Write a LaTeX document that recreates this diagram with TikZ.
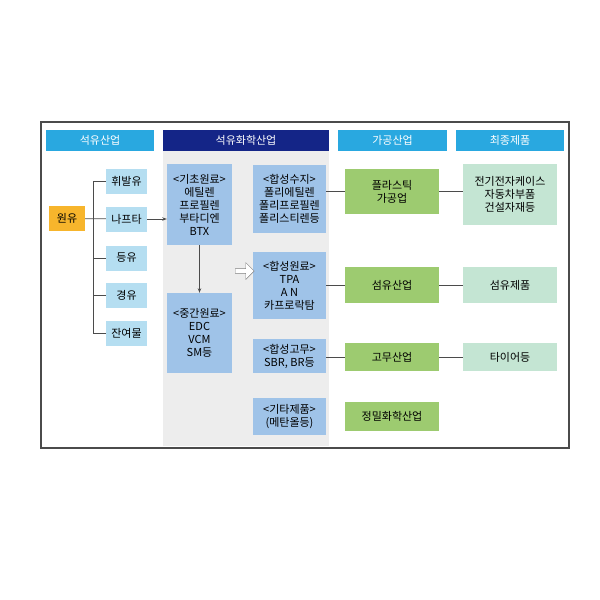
\documentclass[tikz,border=0pt]{standalone}
\usepackage{fontspec}
\setmainfont{Noto Sans CJK KR}
\usepackage{tikz}
\usetikzlibrary{positioning,arrows.meta,shapes.arrows}

\definecolor{hdrblue}{RGB}{41,168,224}
\definecolor{hdrnavy}{RGB}{20,37,135}
\definecolor{oilblue}{RGB}{181,222,241}
\definecolor{crudeorange}{RGB}{247,181,44}
\definecolor{chemblue}{RGB}{159,195,232}
\definecolor{chemgray}{RGB}{237,237,237}
\definecolor{procgreen}{RGB}{157,203,112}
\definecolor{prodmint}{RGB}{196,229,211}
\definecolor{linegray}{RGB}{75,75,75}

\begin{document}
\begin{tikzpicture}[
  x=1pt, y=-1pt,
  font=\fontsize{11pt}{13pt}\selectfont,
  hdr/.style={fill=hdrblue, text=white, minimum width=108pt, minimum height=21pt, inner sep=0pt},
  oil/.style={fill=oilblue, minimum width=41pt, minimum height=25pt, inner sep=0pt},
  chem/.style={fill=chemblue, minimum width=73pt, inner sep=0pt, align=center},
  proc/.style={fill=procgreen, minimum width=94pt, inner sep=0pt, align=center},
  prod/.style={fill=prodmint, minimum width=94pt, inner sep=0pt, align=center},
  conn/.style={draw=linegray, thick},
  arr/.style={-{Stealth[length=1.6mm]}, thick}
]
\useasboundingbox (0,0) rectangle (600,600);
\draw[linegray, line width=1.2pt] (41,122) rectangle (569,448);
\fill[chemgray] (163,151) rectangle (329,446);
% column headers
\node[hdr] (hOil) at (100,140.5) {석유산업};
\node[hdr, fill=hdrnavy, minimum width=166pt] (hChem) at (246,140.5) {석유화학산업};
\node[hdr, minimum width=109pt] (hProc) at (392.5,140.5) {가공산업};
\node[hdr] (hProd) at (510,140.5) {최종제품};
% refining
\node[oil, fill=crudeorange, minimum width=36pt] (crude) at (67,218.5) {원유};
\node[oil] (gasoline) at (126.5,181.5) {휘발유};
\node[oil] (naphtha) at (126.5,219) {나프타};
\node[oil] (kerosene) at (126.5,258) {등유};
\node[oil] (diesel) at (126.5,295) {경유};
\node[oil] (residue) at (126.5,333) {잔여물};
\draw[conn] (gasoline.west) -- ++(-12,0) |- (residue.west);
\draw[conn] (kerosene.west) -- ++(-12,0);
\draw[conn] (diesel.west) -- ++(-12,0);
\draw[conn] (crude) -- (naphtha);
% petrochemicals
\node[chem, minimum width=65pt, minimum height=81pt] (basic) at (199.5,204.5) {<기초원료>\\에틸렌\\프로필렌\\부타디엔\\BTX};
\node[chem, minimum width=65pt, minimum height=80pt] (inter) at (199.5,333) {<중간원료>\\EDC\\VCM\\SM등};
\node[chem, minimum height=68pt] (resin) at (289.5,199) {<합성수지>\\폴리에틸렌\\폴리프로필렌\\폴리스티렌등};
\node[chem, minimum height=67pt] (fibreraw) at (289.5,285.5) {<합성원료>\\TPA\\A N\\카프로락탐};
\node[chem, minimum height=34pt] (rubber) at (289.5,356) {<합성고무>\\SBR, BR등};
\node[chem, minimum height=37pt] (other) at (289.5,416.5) {<기타제품>\\(메탄올등)};
\node[single arrow, draw=gray, fill=white, minimum height=19pt, minimum width=17pt,
  single arrow head extend=3pt, inner sep=1pt] (toProd) at (243.5,271) {};
\draw[arr, linegray] (naphtha) -- (naphtha -| basic.west);
\draw[arr, linegray] (basic) -- (inter);
% processing and final products
\node[proc, minimum height=45pt] (plastic) at (392,191.5) {플라스틱\\가공업};
\node[proc, minimum height=36pt] (fibre) at (392,285) {섬유산업};
\node[proc, minimum height=28pt] (rubberind) at (392,357) {고무산업};
\node[proc, minimum height=29pt] (finechem) at (392,416.5) {정밀화학산업};
\node[prod, minimum height=61pt] (electro) at (510,194.5) {전기전자케이스\\자동차부품\\건설자재등};
\node[prod, minimum height=36pt] (textile) at (510,285) {섬유제품};
\node[prod, minimum height=28pt] (tyre) at (510,357) {타이어등};
\draw[conn] (resin.east |- plastic.west) -- (plastic.west);
\draw[conn] (fibreraw.east |- fibre.west) -- (fibre.west);
\draw[conn] (rubber.east |- rubberind.west) -- (rubberind.west);
\draw[conn] (plastic.east) -- (plastic.east -| electro.west);
\draw[conn] (fibre) -- (textile);
\draw[conn] (rubberind) -- (tyre);
\end{tikzpicture}
\end{document}
